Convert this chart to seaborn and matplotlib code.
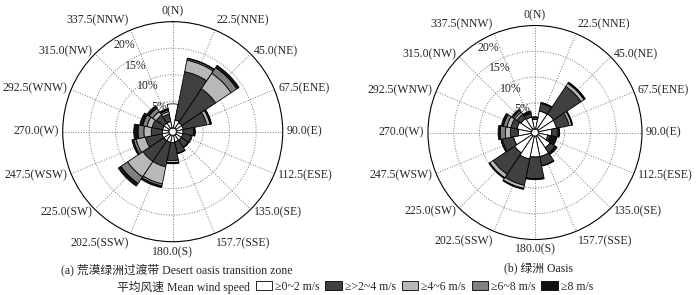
import numpy as np
import pandas as pd
import matplotlib
matplotlib.use('Agg')
import matplotlib.pyplot as plt
from matplotlib.patches import Patch
import seaborn as sns

sns.set_theme(style='white')
plt.rcParams['font.family'] = ['Liberation Serif', 'Noto Sans CJK SC']
plt.rcParams['axes.unicode_minus'] = False

# 16 directions, N clockwise
directions = ['N', 'NNE', 'NE', 'ENE', 'E', 'ESE', 'SE', 'SSE',
              'S', 'SSW', 'SW', 'WSW', 'W', 'WNW', 'NW', 'NNW']
angle_labels = ['0(N)', '22.5(NNE)', '45.0(NE)', '67.5(ENE)', '90.0(E)', '112.5(ESE)',
                '135.0(SE)', '157.7(SSE)', '180.0(S)', '202.5(SSW)', '225.0(SW)',
                '247.5(WSW)', '270.0(W)', '292.5(WNW)', '315.0(NW)', '337.5(NNW)']
speed_bins = ['≥0~2 m/s', '≥>2~4 m/s', '≥4~6 m/s', '≥6~8 m/s', '≥8 m/s']
bin_colors = ['#ffffff', '#404040', '#b8b8b8', '#808080', '#111111']

# (a) desert oasis transition zone, frequency (%) per speed class
desert_0_2 = [4.5, 1.5, 1.3, 1.3, 1.2, 1.2, 1.2, 1.2, 1.3, 1.3, 1.3, 1.3, 1.2, 1.2, 1.2, 1.2]
desert_2_4 = [0.0, 9.3, 7.7, 4.5, 2.0, 1.6, 1.6, 2.2, 3.4, 4.7, 4.7, 3.2, 2.1, 2.0, 1.8, 1.4]
desert_4_6 = [0.0, 2.2, 3.5, 0.6, 0.2, 0.2, 0.1, 0.1, 0.4, 3.3, 3.5, 1.8, 1.4, 1.0, 0.8, 0.5]
desert_6_8 = [0.0, 0.3, 1.3, 0.2, 0.1, 0.0, 0.0, 0.0, 0.1, 0.4, 1.5, 0.5, 1.1, 0.8, 0.8, 0.3]
desert_8 = [0.0, 0.1, 0.5, 0.1, 0.0, 0.0, 0.0, 0.0, 0.1, 0.3, 0.6, 0.3, 0.8, 0.6, 0.5, 0.3]

# (b) oasis
oasis_0_2 = [1.8, 3.5, 3.6, 3.5, 2.5, 1.8, 2.8, 4.0, 4.0, 4.5, 4.0, 3.5, 2.5, 2.8, 2.5, 2.3]
oasis_2_4 = [0.4, 1.5, 6.4, 2.5, 1.2, 0.5, 1.2, 1.8, 4.2, 5.2, 5.0, 2.2, 1.5, 1.2, 1.0, 0.7]
oasis_4_6 = [0.1, 0.1, 0.7, 0.5, 0.2, 0.0, 0.2, 0.0, 0.0, 0.6, 0.8, 0.2, 1.0, 0.8, 0.5, 0.2]
oasis_6_8 = [0.0, 0.0, 0.1, 0.0, 0.0, 0.0, 0.0, 0.0, 0.0, 0.0, 0.0, 0.0, 1.0, 0.7, 0.4, 0.0]
oasis_8 = [0.0, 0.1, 0.2, 0.2, 0.1, 1.3, 0.2, 0.1, 0.2, 0.2, 0.2, 0.1, 0.4, 0.4, 0.3, 0.3]

desert = pd.DataFrame(dict(zip(speed_bins, [desert_0_2, desert_2_4, desert_4_6, desert_6_8, desert_8])),
                      index=directions)
oasis = pd.DataFrame(dict(zip(speed_bins, [oasis_0_2, oasis_2_4, oasis_4_6, oasis_6_8, oasis_8])),
                     index=directions)

ring_values = [5, 10, 15, 20]
rmax = 20
fs = 8.5


def rose(ax, df):
    theta = np.deg2rad(np.arange(len(df)) * 22.5)
    width = 2 * np.pi / len(df)
    bottom = np.zeros(len(df))
    for col, c in zip(speed_bins, bin_colors):
        vals = df[col].values
        m = vals > 0
        ax.bar(theta[m], vals[m], width=width, bottom=bottom[m], color=c,
               edgecolor='black', linewidth=0.6, zorder=3)
        bottom += vals
    ax.set_theta_zero_location('N')
    ax.set_theta_direction(-1)
    ax.set_ylim(0, rmax)
    ax.set_rorigin(-0.75)
    ax.set_thetagrids(np.arange(0, 360, 22.5), labels=[])
    ax.set_rgrids(ring_values[:-1], labels=[])
    ax.grid(True, linestyle=':', color='#777777', linewidth=0.7)
    ax.set_axisbelow(True)
    ax.spines['polar'].set_color('black')
    ax.spines['polar'].set_linewidth(0.8)
    ax.set_facecolor('white')
    # direction labels outside the circle
    for ang, lab in zip(np.arange(0, 360, 22.5), angle_labels):
        s, c = np.sin(np.deg2rad(ang)), np.cos(np.deg2rad(ang))
        ha = 'center' if abs(s) < 0.1 else ('left' if s > 0 else 'right')
        va = 'bottom' if c > 0.75 else ('top' if c < -0.75 else 'center')
        ax.text(np.deg2rad(ang), rmax + 0.8, lab, ha=ha, va=va, fontsize=fs, clip_on=False)
    # ring labels sit just inside each ring, towards NNW
    for v in ring_values:
        ax.text(np.deg2rad(331), 0.9 * v, f'{v}%', ha='center', va='center', fontsize=fs, zorder=10)


fig = plt.figure(figsize=(7, 2.95), dpi=100)
ax1 = fig.add_axes([0.0896, 0.1807, 0.3143, 0.7458], projection='polar')
ax2 = fig.add_axes([0.6114, 0.1881, 0.3057, 0.7254], projection='polar')
rose(ax1, desert)
rose(ax2, oasis)

fig.text(0.252, 0.085, '(a) 荒漠绿洲过渡带 Desert oasis transition zone', ha='center', va='center', fontsize=fs)
fig.text(0.769, 0.088, '(b) 绿洲 Oasis', ha='center', va='center', fontsize=fs)
fig.text(0.167, 0.027, '平均风速 Mean wind speed', ha='left', va='center', fontsize=fs)

handles = [Patch(facecolor=c, edgecolor='black', linewidth=0.6, label=l) for c, l in zip(bin_colors, speed_bins)]
fig.legend(handles=handles, loc='center left', bbox_to_anchor=(0.365, 0.027), ncol=5, frameon=False,
           handlelength=1.4, handleheight=0.8, handletextpad=0.25, columnspacing=0.5,
           borderpad=0, borderaxespad=0, prop={'family': ['Liberation Serif', 'Noto Sans CJK SC'], 'size': fs})

fig.savefig('out.png', dpi=100, facecolor='white')
